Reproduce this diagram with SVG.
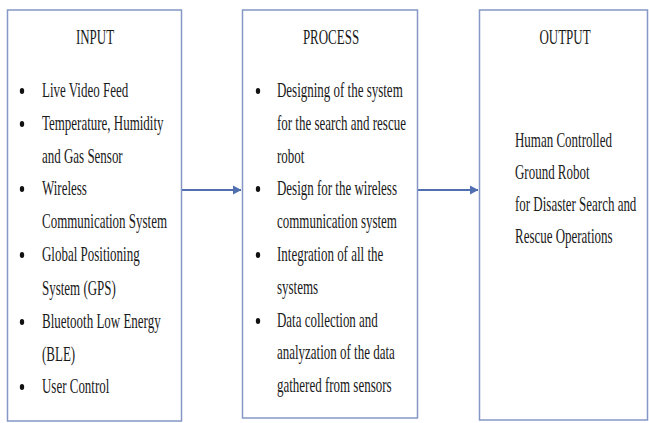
<svg xmlns="http://www.w3.org/2000/svg" width="649" height="423" viewBox="0 0 649 423">
<style>
.box{fill:#ffffff;stroke:#8497c5;stroke-width:1.5}
.t{font-family:"Liberation Serif","Times New Roman",serif;font-size:22px;fill:#1a1a1a}
.c{text-anchor:middle}
.b{fill:#111111}
.conn{stroke:#4f6fb0;stroke-width:2;fill:none}
</style>
<defs>
<marker id="ah" markerWidth="10" markerHeight="10" refX="8" refY="5" orient="auto" markerUnits="userSpaceOnUse">
<path d="M0,0.5 L8.5,5 L0,9.5 Z" fill="#4f6fb0"/>
</marker>
</defs>
<rect width="649" height="423" fill="#ffffff"/>
<g id="connectors">
<line class="conn" x1="182" y1="190" x2="241" y2="190" marker-end="url(#ah)"/>
<line class="conn" x1="418" y1="190" x2="478" y2="190" marker-end="url(#ah)"/>
</g>
<g id="input">
<rect class="box" x="7.5" y="10" width="174" height="411"/>
<g transform="translate(95 0) scale(0.59 1)"><text class="t c" x="0" y="44">INPUT</text></g>
<ellipse class="b" cx="22" cy="91" rx="2.2" ry="3"/>
<ellipse class="b" cx="22" cy="124" rx="2.2" ry="3"/>
<ellipse class="b" cx="22" cy="189" rx="2.2" ry="3"/>
<ellipse class="b" cx="22" cy="255" rx="2.2" ry="3"/>
<ellipse class="b" cx="22" cy="322" rx="2.2" ry="3"/>
<ellipse class="b" cx="22" cy="387" rx="2.2" ry="3"/>
<g transform="translate(42 0) scale(0.59 1)">
<text class="t" x="0" y="97">Live Video Feed</text>
<text class="t" x="0" y="130">Temperature, Humidity</text>
<text class="t" x="0" y="163">and Gas Sensor</text>
<text class="t" x="0" y="195">Wireless</text>
<text class="t" x="0" y="228">Communication System</text>
<text class="t" x="0" y="261">Global Positioning</text>
<text class="t" x="0" y="295">System (GPS)</text>
<text class="t" x="0" y="328">Bluetooth Low Energy</text>
<text class="t" x="0" y="361">(BLE)</text>
<text class="t" x="0" y="393">User Control</text>
</g>
</g>
<g id="process">
<rect class="box" x="242.5" y="10" width="175" height="408"/>
<g transform="translate(331 0) scale(0.59 1)"><text class="t c" x="0" y="44">PROCESS</text></g>
<ellipse class="b" cx="258" cy="91" rx="2.2" ry="3"/>
<ellipse class="b" cx="258" cy="189" rx="2.2" ry="3"/>
<ellipse class="b" cx="258" cy="255" rx="2.2" ry="3"/>
<ellipse class="b" cx="258" cy="321" rx="2.2" ry="3"/>
<g transform="translate(277 0) scale(0.59 1)">
<text class="t" x="0" y="97">Designing of the system</text>
<text class="t" x="0" y="130">for the search and rescue</text>
<text class="t" x="0" y="163">robot</text>
<text class="t" x="0" y="195">Design for the wireless</text>
<text class="t" x="0" y="228">communication system</text>
<text class="t" x="0" y="261">Integration of all the</text>
<text class="t" x="0" y="294">systems</text>
<text class="t" x="0" y="327">Data collection and</text>
<text class="t" x="0" y="359">analyzation of the data</text>
<text class="t" x="0" y="392">gathered from sensors</text>
</g>
</g>
<g id="output">
<rect class="box" x="479.5" y="10" width="168" height="410"/>
<g transform="translate(565 0) scale(0.59 1)"><text class="t c" x="0" y="44">OUTPUT</text></g>
<g transform="translate(515 0) scale(0.59 1)">
<text class="t" x="0" y="147">Human Controlled</text>
<text class="t" x="0" y="179">Ground Robot</text>
<text class="t" x="0" y="211">for Disaster Search and</text>
<text class="t" x="0" y="243">Rescue Operations</text>
</g>
</g>
</svg>
